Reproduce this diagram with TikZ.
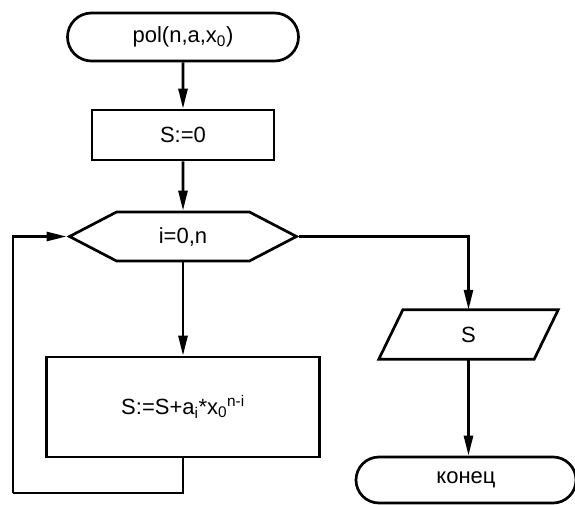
\documentclass[tikz,border=0pt]{standalone}
\usepackage{fontspec}
\setmainfont{Liberation Sans}
\usepackage{tikz}
\usetikzlibrary{positioning,arrows.meta,shapes.misc,shapes.symbols}
\tikzset{
  node-term/.style={draw,line width=2.7pt,rounded rectangle,
    minimum height=48pt,inner sep=0pt},
  node-box/.style={draw,line width=2.7pt,rectangle,inner sep=0pt},
  node-loop/.style={draw,line width=2.7pt,signal,signal to=west and east,
    signal pointer angle=55,
    minimum width=227pt,minimum height=49pt,inner sep=0pt},
  node-io/.style={rectangle,minimum width=155pt,minimum height=49pt,
    inner sep=0pt},
  arrow/.style={-{Triangle[length=20pt,width=9pt]},line width=2.7pt},
  line/.style={line width=2.7pt},
}

\begin{document}
\begin{tikzpicture}[x=1pt,y=-1pt,font=\fontsize{22}{26}\selectfont]
  \useasboundingbox (0,0) rectangle (575,505);
  \node[node-term,minimum width=231pt] (start) at (183,37) {pol(n,a,x\textsubscript{0})};
  \node[node-box,minimum width=182pt,minimum height=50pt] (init) at (183,135) {S:=0};
  \node[node-loop] (loop) at (183,236.5) {i=0,n};
  \node[node-box,minimum width=273pt,minimum height=100pt] (body) at (183,407)
    {S:=S+a\textsubscript{i}*x\textsubscript{0}\textsuperscript{n-i}};
  \node[node-io] (out) at (468.5,334.5) {S};
  \draw[line,line join=miter] ([xshift=12pt]out.north west) -- ([xshift=12pt]out.north east)
    -- ([xshift=-12pt]out.south east) -- ([xshift=-12pt]out.south west) -- cycle;
  \node[node-term,minimum width=220pt,minimum height=46pt] (stop) at (466,480) {конец};
  \coordinate (back) at (13,493);
  \draw[arrow] (start) -- (init);
  \draw[arrow] (init) -- (loop);
  \draw[arrow] (loop.south) -- (body.north);
  \draw[line] (body.south) |- (back);
  \draw[arrow] (back) |- (loop.west);
  \draw[arrow] (loop.east) -| (out.north);
  \draw[arrow] (out.south) -- (out.south |- stop.north);
\end{tikzpicture}
\end{document}
